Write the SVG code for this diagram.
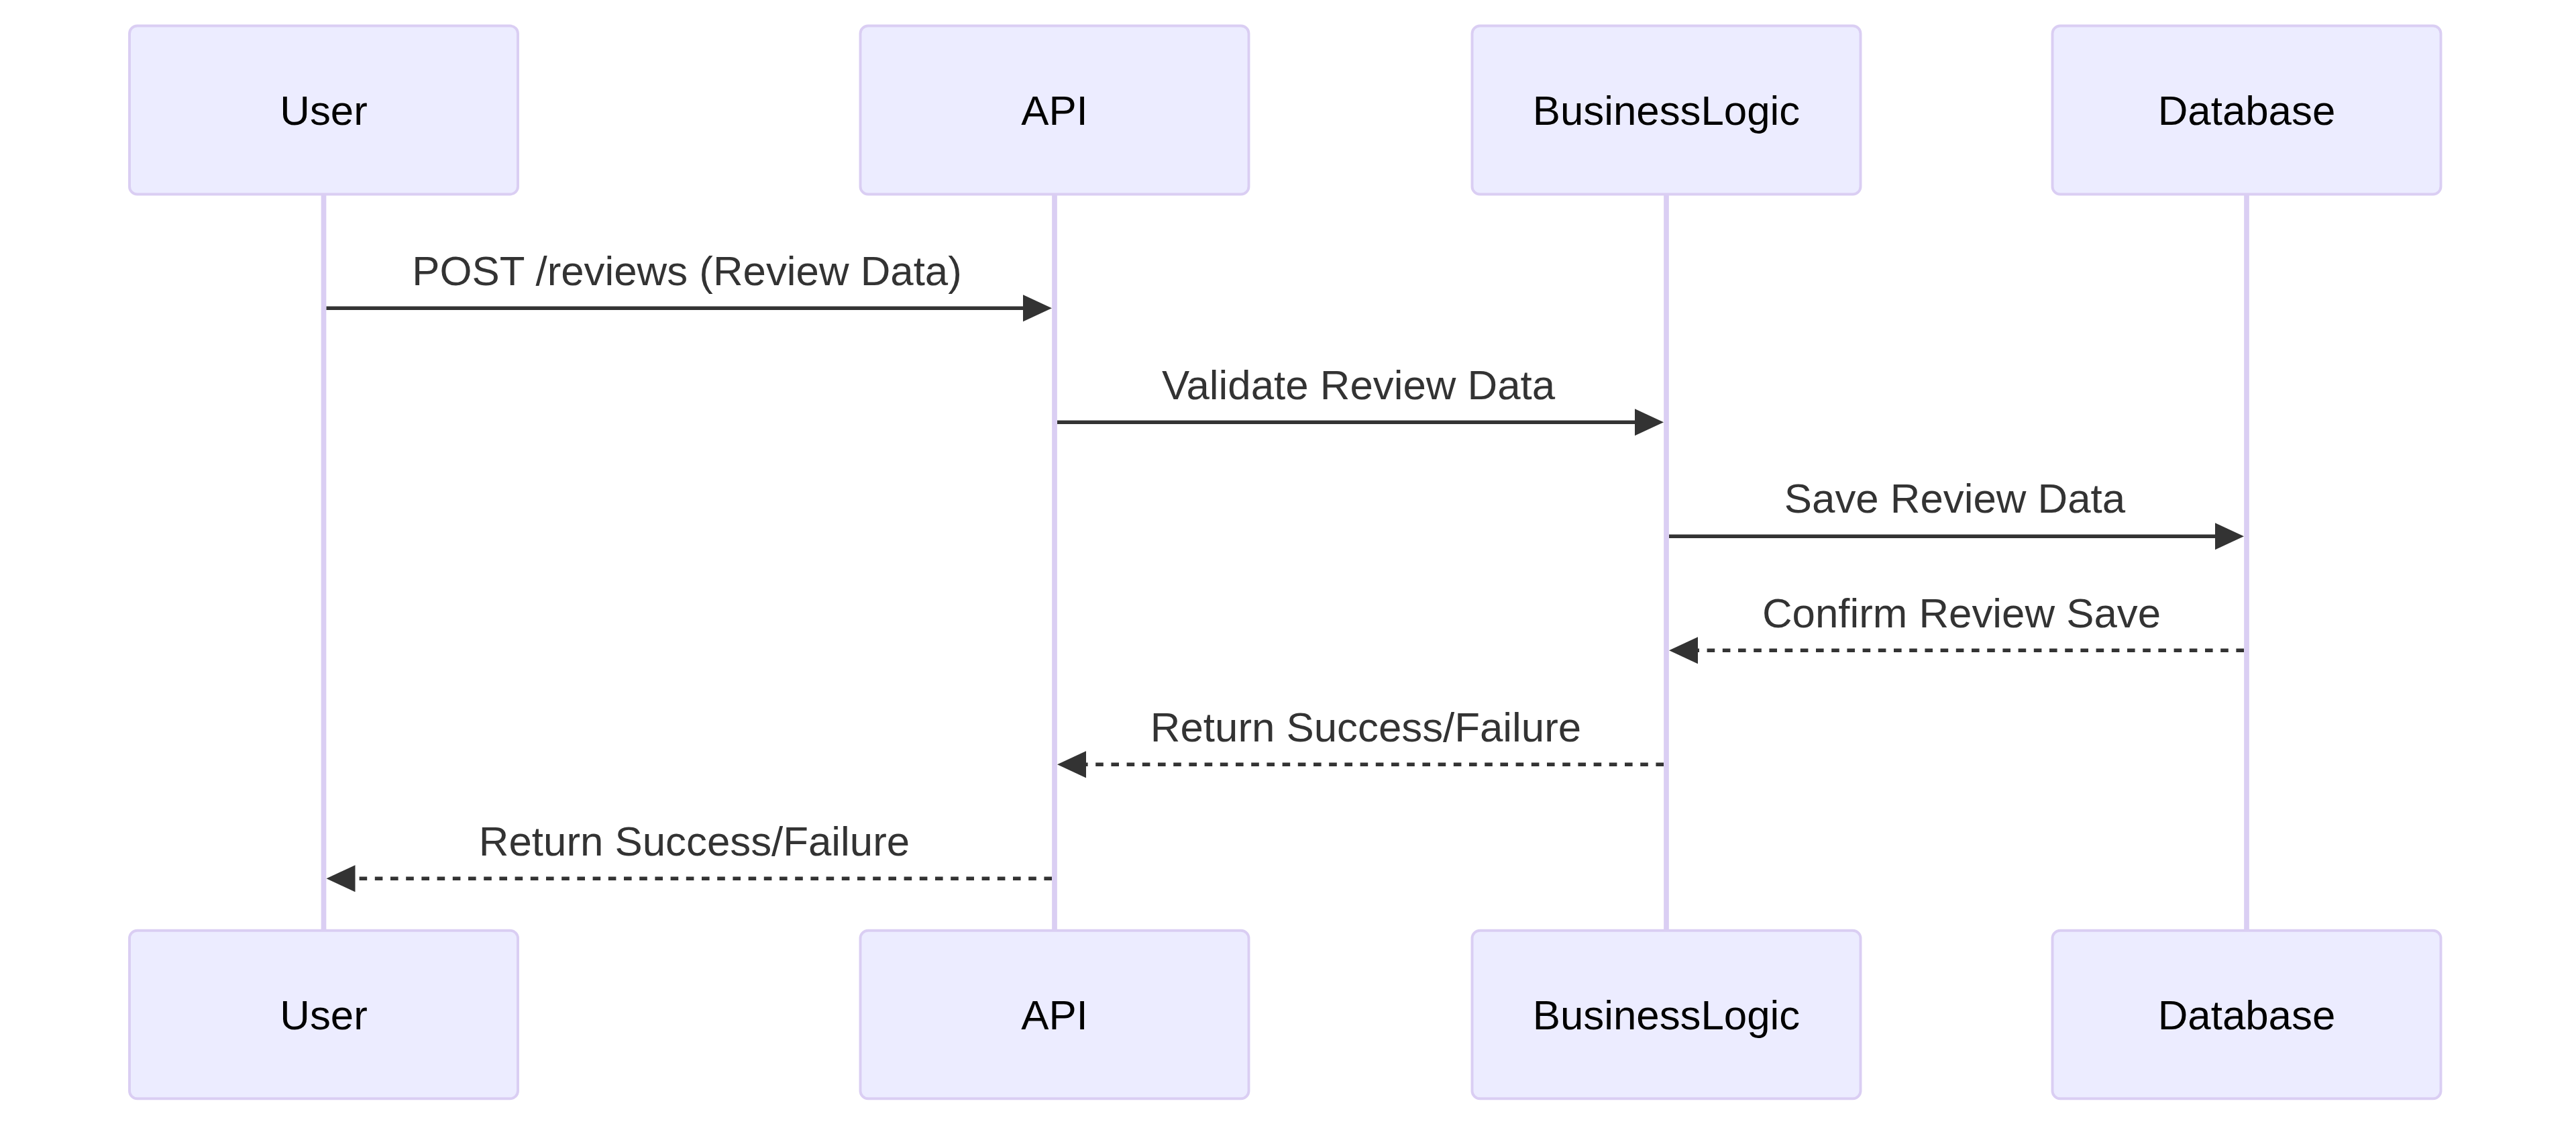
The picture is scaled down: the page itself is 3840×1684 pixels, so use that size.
<svg xmlns="http://www.w3.org/2000/svg" width="3840" height="1684" viewBox="0 0 3840 1684">
<style>
.actor{fill:#ECECFF;stroke:#DACEF3;stroke-width:3.9}
.actor-text{font-family:"Liberation Sans",Arial,sans-serif;font-size:61.8px;fill:#000;text-anchor:middle}
.lifeline{stroke:#DACEF3;stroke-width:7.7}
.msg{stroke:#333;stroke-width:5.4;fill:none;marker-end:url(#arrowhead)}
.dashed{stroke-dasharray:11.6 11.6}
.msg-text{font-family:"Liberation Sans",Arial,sans-serif;font-size:61.8px;fill:#333;text-anchor:middle}
</style>
<defs>
<marker id="arrowhead" markerUnits="userSpaceOnUse" markerWidth="44" markerHeight="41" refX="35" refY="20" orient="auto">
<path d="M0,0 L43,20 L0,40 z" fill="#333"/>
</marker>
</defs>
<rect width="3840" height="1684" fill="#fff"/>
<g id="lifelines">
<line class="lifeline" x1="482.5" y1="289" x2="482.5" y2="1387"/>
<line class="lifeline" x1="1572" y1="289" x2="1572" y2="1387"/>
<line class="lifeline" x1="2484" y1="289" x2="2484" y2="1387"/>
<line class="lifeline" x1="3349" y1="289" x2="3349" y2="1387"/>
</g>
<g id="User">
<rect class="actor" x="193" y="38.5" width="579" height="251" rx="11.6"/>
<text class="actor-text" x="482.5" y="185.5">User</text>
<rect class="actor" x="193" y="1386.7" width="579" height="250.6" rx="11.6"/>
<text class="actor-text" x="482.5" y="1533.5">User</text>
</g>
<g id="API">
<rect class="actor" x="1282.5" y="38.5" width="579" height="251" rx="11.6"/>
<text class="actor-text" x="1572" y="185.5">API</text>
<rect class="actor" x="1282.5" y="1386.7" width="579" height="250.6" rx="11.6"/>
<text class="actor-text" x="1572" y="1533.5">API</text>
</g>
<g id="BusinessLogic">
<rect class="actor" x="2194.5" y="38.5" width="579" height="251" rx="11.6"/>
<text class="actor-text" x="2484" y="185.5">BusinessLogic</text>
<rect class="actor" x="2194.5" y="1386.7" width="579" height="250.6" rx="11.6"/>
<text class="actor-text" x="2484" y="1533.5">BusinessLogic</text>
</g>
<g id="Database">
<rect class="actor" x="3059.5" y="38.5" width="579" height="251" rx="11.6"/>
<text class="actor-text" x="3349" y="185.5">Database</text>
<rect class="actor" x="3059.5" y="1386.7" width="579" height="250.6" rx="11.6"/>
<text class="actor-text" x="3349" y="1533.5">Database</text>
</g>
<g id="connectors">
<line class="msg" x1="486.5" y1="459.3" x2="1560" y2="459.3"/>
<text class="msg-text" x="1024" y="425">POST /reviews (Review Data)</text>
<line class="msg" x1="1576" y1="629.3" x2="2472" y2="629.3"/>
<text class="msg-text" x="2025" y="595">Validate Review Data</text>
<line class="msg" x1="2488" y1="799.3" x2="3337" y2="799.3"/>
<text class="msg-text" x="2914" y="764">Save Review Data</text>
<line class="msg dashed" x1="3345" y1="969.3" x2="2496" y2="969.3"/>
<text class="msg-text" x="2924" y="935">Confirm Review Save</text>
<line class="msg dashed" x1="2480" y1="1139.3" x2="1584" y2="1139.3"/>
<text class="msg-text" x="2036" y="1105">Return Success/Failure</text>
<line class="msg dashed" x1="1568" y1="1309.3" x2="494.5" y2="1309.3"/>
<text class="msg-text" x="1035" y="1275">Return Success/Failure</text>
</g>
</svg>
